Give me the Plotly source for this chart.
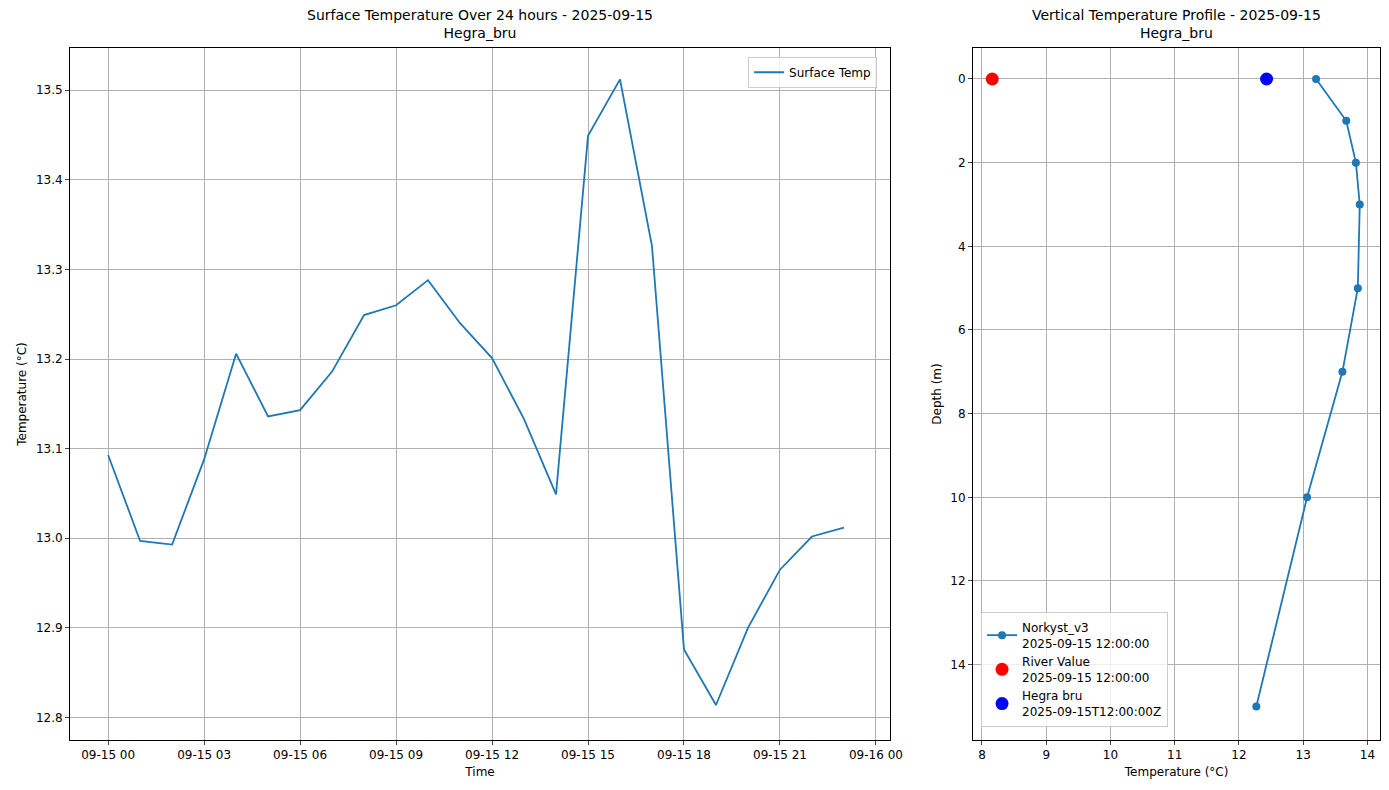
import pandas as pd
import plotly.graph_objects as go

# --- data ---
times = pd.date_range("2025-09-15 00:00", periods=24, freq="h")
surface_temp = [13.093, 12.997, 12.993, 13.088, 13.206, 13.136, 13.143, 13.186,
                13.249, 13.260, 13.288, 13.240, 13.201, 13.133, 13.049, 13.449,
                13.512, 13.326, 12.876, 12.814, 12.900, 12.965, 13.002, 13.012]

depths = [0, 1, 2, 3, 5, 7, 10, 15]
profile_temp = [13.20, 13.67, 13.82, 13.88, 13.85, 13.61, 13.06, 12.27]
river_temp = 8.16
hegra_temp = 12.43

BLUE = "#1f77b4"
FONT = "DejaVu Sans"

fig = go.Figure()
fig.add_trace(go.Scatter(x=times, y=surface_temp, mode="lines", name="Surface Temp",
                         line=dict(color=BLUE, width=1.8), xaxis="x", yaxis="y"))
fig.add_trace(go.Scatter(x=profile_temp, y=depths, mode="lines+markers",
                         name="Norkyst_v3<br>2025-09-15 12:00:00",
                         line=dict(color=BLUE, width=1.8), marker=dict(size=8, color=BLUE),
                         xaxis="x2", yaxis="y2", legend="legend2"))
fig.add_trace(go.Scatter(x=[river_temp], y=[0], mode="markers",
                         name="River Value<br>2025-09-15 12:00:00",
                         marker=dict(size=13, color="red"), xaxis="x2", yaxis="y2", legend="legend2"))
fig.add_trace(go.Scatter(x=[hegra_temp], y=[0], mode="markers",
                         name="Hegra bru<br>2025-09-15T12:00:00Z",
                         marker=dict(size=13, color="blue"), xaxis="x2", yaxis="y2", legend="legend2"))

ax = dict(showline=True, mirror=True, linecolor="black", linewidth=1, ticks="outside",
          ticklen=4, showgrid=True, gridcolor="#b0b0b0", gridwidth=1, zeroline=False,
          tickfont=dict(size=12, color="black"))

fig.update_layout(
    width=1373, height=774,
    plot_bgcolor="white", paper_bgcolor="white",
    font=dict(family=FONT, size=12, color="black"),
    margin=dict(l=0, r=0, t=0, b=0, autoexpand=False),
    xaxis=dict(ax, domain=[0.0452, 0.6424], anchor="y", tickformat="%m-%d %H",
               dtick=3 * 3600 * 1000,
               range=[pd.Timestamp("2025-09-15") - pd.Timedelta(hours=1.19),
                      pd.Timestamp("2025-09-15") + pd.Timedelta(hours=24.44)],
               title=dict(text="Time", font=dict(size=12), standoff=6)),
    yaxis=dict(ax, domain=[0.0543, 0.9483], anchor="x", range=[12.775, 13.547], dtick=0.1,
               tickformat=".1f", title=dict(text="Temperature (°C)", font=dict(size=12), standoff=6)),
    xaxis2=dict(ax, domain=[0.7028, 0.9995], anchor="y2", range=[7.86, 14.2], dtick=1,
                title=dict(text="Temperature (°C)", font=dict(size=12), standoff=6)),
    yaxis2=dict(ax, domain=[0.0543, 0.9483], anchor="x2", range=[15.8, -0.74], dtick=2,
                title=dict(text="Depth (m)", font=dict(size=12), standoff=6)),
    legend=dict(x=0.633, y=0.937, xanchor="right", yanchor="top", bgcolor="rgba(255,255,255,0.8)",
                bordercolor="#cccccc", borderwidth=1, font=dict(size=12)),
    legend2=dict(x=0.7087, y=0.071, xanchor="left", yanchor="bottom", bgcolor="rgba(255,255,255,0.8)",
                 bordercolor="#cccccc", borderwidth=1, font=dict(size=12)),
    showlegend=True,
    annotations=[
        dict(text="Surface Temperature Over 24 hours - 2025-09-15<br>Hegra_bru", x=0.3438, y=0.955,
             xref="paper", yref="paper", xanchor="center", yanchor="bottom", showarrow=False,
             font=dict(size=14)),
        dict(text="Vertical Temperature Profile - 2025-09-15<br>Hegra_bru", x=0.8514, y=0.955,
             xref="paper", yref="paper", xanchor="center", yanchor="bottom", showarrow=False,
             font=dict(size=14)),
    ],
)

fig.write_html("out.html")
